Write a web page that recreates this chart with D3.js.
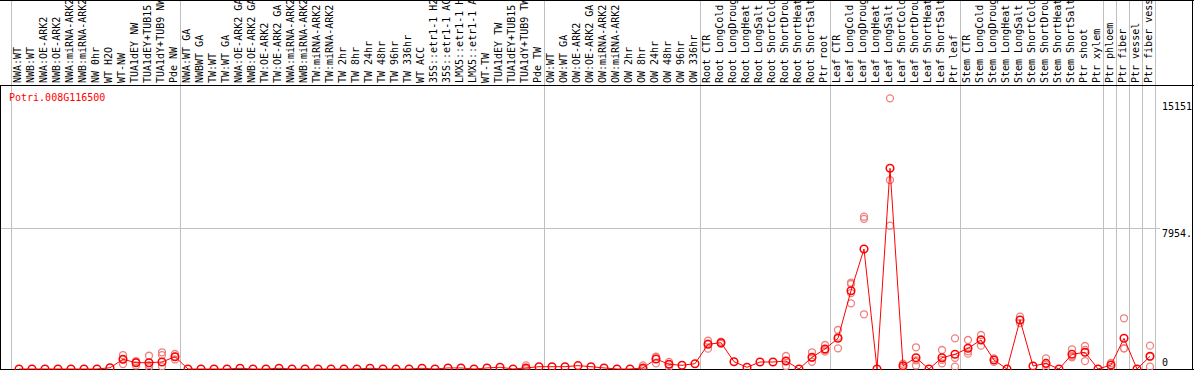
<!DOCTYPE html>
<html>
<head>
<meta charset="utf-8">
<script src="https://cdn.jsdelivr.net/npm/d3@7"></script>
<style>
  body { margin: 0; background: #fff; }
  text { font-family: "DejaVu Sans Mono", monospace; font-size: 10px; }
</style>
</head>
<body>
<div id="chart"></div>
<script>
"use strict";

var geneId = "Potri.008G116500";

var samples = [
  "NWA:WT", "NWB:WT", "NWA:OE-ARK2", "NWB:OE-ARK2", "NWA:miRNA-ARK2", "NWB:miRNA-ARK2",
  "NW 0hr", "WT H2O", "WT-NW", "TUA1dEY NW", "TUA1dEY+TUB15", "TUA1dY+TUB9 NW", "Pde NW",
  "NWA:WT GA", "NWBWT GA", "TW:WT", "TW:WT GA", "NWA:OE-ARK2 GA", "NWB:OE-ARK2 GA",
  "TW:OE-ARK2", "TW:OE-ARK2 GA", "NWA:miRNA-ARK2", "NWB:miRNA-ARK2", "TW:miRNA-ARK2",
  "TW:miRNA-ARK2", "TW 2hr", "TW 8hr", "TW 24hr", "TW 48hr", "TW 96hr", "TW 336hr",
  "WT ACC", "35S::etr1-1 H2O", "35S::etr1-1 ACC", "LMX5::etr1-1 H2O", "LMX5::etr1-1 ACC",
  "WT-TW", "TUA1dEY TW", "TUA1dEY+TUB15", "TUA1dY+TUB9 TW", "Pde TW",
  "OW:WT", "OW:WT GA", "OW:OE-ARK2", "OW:OE-ARK2 GA", "OW:miRNA-ARK2", "OW:miRNA-ARK2",
  "OW 2hr", "OW 8hr", "OW 24hr", "OW 48hr", "OW 96hr", "OW 336hr",
  "Root CTR", "Root LongCold", "Root LongDrought", "Root LongHeat", "Root LongSalt",
  "Root ShortCold", "Root ShortDrought", "Root ShortHeat", "Root ShortSalt", "Ptr root",
  "Leaf CTR", "Leaf LongCold", "Leaf LongDrought", "Leaf LongHeat", "Leaf LongSalt",
  "Leaf ShortCold", "Leaf ShortDrought", "Leaf ShortHeat", "Leaf ShortSalt", "Ptr leaf",
  "Stem CTR", "Stem LongCold", "Stem LongDrought", "Stem LongHeat", "Stem LongSalt",
  "Stem ShortCold", "Stem ShortDrought", "Stem ShortHeat", "Stem ShortSalt", "Ptr shoot",
  "Ptr xylem", "Ptr phloem", "Ptr fiber", "Ptr vessel", "Ptr fiber vessel"
];

// mean expression per sample
var means = [
  0, 0, 0, 0, 0, 0, 0, 70, 549, 357, 357, 396, 696,
  0, 0, 0, 0, 40, 0, 0, 40, 0, 0, 0, 0, 0, 0, 40, 0, 0, 0,
  40, 0, 60, 60, 0, 60, 100, 0, 60, 130,
  130, 130, 190, 130, 60, 0, 0, 60, 566, 266, 210, 300,
  1398, 1490, 413, 96, 396, 396, 453, 0, 662, 1132,
  1737, 4433, 6792, 0, 11360, 187, 640, 0, 640, 832,
  1171, 1641, 509, 0, 2773, 170, 320, 0, 832, 945,
  0, 226, 1737, 0, 719
];

// replicate values (only where they show apart from the mean)
var replicates = [
  [], [], [], [], [], [], [], [], [790, 280, 549], [420, 200, 450], [750, 100, 220], [945, 790, 150], [850, 700, 540],
  [], [], [], [], [], [], [], [], [], [], [], [], [], [], [], [], [], [],
  [], [], [], [], [], [], [], [], [200, 0], [],
  [], [], [], [], [], [], [], [200, 0], [700, 320, 680], [400, 266, 130], [], [],
  [1600, 1150, 1440], [1550, 1430], [], [], [], [], [736, 170, 453], [], [945, 410, 630], [1358, 980, 1060],
  [2207, 1170, 1830], [4885, 3718, 4811, 4300], [8620, 8500, 3096], [], [15322, 10697, 8111], [300, 100], [1228, 200, 490], [], [1075, 320, 520], [1737, 130, 630],
  [1641, 870, 1000], [1924, 1320, 1680], [600, 400], [], [2960, 2600], [], [605, 100, 250], [], [1115, 660, 720], [1302, 450, 1080],
  [], [340, 120], [2870, 1170, 1170], [], [1320, 130, 700]
];

// group separators: sample index that starts each block (88 = end)
var groupStarts = [0, 13, 41, 53, 63, 73, 84, 85, 86, 87, 88];

var yTicks = [15151, 7954, 0];
var yTickLabels = ["15151", "7954.", "0"];

var width = 1194, height = 370;
var headerH = 86, plotBottom = 369;

var svg = d3.select("#chart").append("svg")
  .attr("width", width)
  .attr("height", height);

var x = d3.scaleLinear()
  .domain([0, samples.length])
  .range([11, 11 + 13 * samples.length]);

var y = d3.scaleLinear()
  .domain([0, 16020])
  .range([plotBottom, headerH]);

function px(i) { return x(i) + 8; }

// vertical group lines through header and plot
svg.selectAll("line.group")
  .data(groupStarts)
  .enter().append("line")
    .attr("x1", function(d) { return x(d) + 0.5; })
    .attr("x2", function(d) { return x(d) + 0.5; })
    .attr("y1", 0)
    .attr("y2", plotBottom)
    .attr("stroke", "#c0c0c0");

// horizontal grid at middle tick
svg.append("line")
  .attr("x1", 0).attr("x2", 1160)
  .attr("y1", Math.round(y(7954)) + 0.5)
  .attr("y2", Math.round(y(7954)) + 0.5)
  .attr("stroke", "#c0c0c0");

// frame
svg.append("line").attr("x1", 0).attr("x2", width).attr("y1", 0.5).attr("y2", 0.5).attr("stroke", "#000");
svg.append("line").attr("x1", 0).attr("x2", width).attr("y1", headerH - 0.5).attr("y2", headerH - 0.5).attr("stroke", "#000");
svg.append("line").attr("x1", 0).attr("x2", width).attr("y1", plotBottom + 0.5).attr("y2", plotBottom + 0.5).attr("stroke", "#000");
svg.append("line").attr("x1", 0.5).attr("x2", 0.5).attr("y1", headerH).attr("y2", height).attr("stroke", "#000");
svg.append("line").attr("x1", width - 1.5).attr("x2", width - 1.5).attr("y1", 0).attr("y2", height).attr("stroke", "#000");

// sample labels (vertical)
svg.selectAll("text.sample")
  .data(samples)
  .enter().append("text")
    .attr("transform", function(d, i) { return "translate(" + (px(i) + 2) + "," + (headerH - 3) + ") rotate(-90)"; })
    .attr("fill", "#000")
    .text(function(d) { return d; });

// y tick labels
svg.selectAll("text.ytick")
  .data(yTicks)
  .enter().append("text")
    .attr("x", 1162)
    .attr("y", function(d) { return Math.min(y(d) + 9, plotBottom - 3); })
    .attr("fill", "#000")
    .text(function(d, i) { return yTickLabels[i]; });

// gene id
svg.append("text")
  .attr("x", 9)
  .attr("y", 101)
  .attr("fill", "#ff0000")
  .text(geneId);

var plot = svg.append("g");

// replicates
var repPts = [];
replicates.forEach(function(r, i) {
  r.forEach(function(v) { repPts.push({ i: i, v: v }); });
});
plot.selectAll("circle.rep")
  .data(repPts)
  .enter().append("circle")
    .attr("cx", function(d) { return px(d.i); })
    .attr("cy", function(d) { return y(d.v); })
    .attr("r", 3.5)
    .attr("fill", "none")
    .attr("stroke", "#f08080")
    .attr("stroke-width", 1.3);

// mean line
var line = d3.line()
  .x(function(d, i) { return px(i); })
  .y(function(d) { return y(d); });

plot.append("path")
  .datum(means)
  .attr("d", line)
  .attr("fill", "none")
  .attr("stroke", "#ff0000")
  .attr("stroke-width", 1);

plot.selectAll("circle.mean")
  .data(means)
  .enter().append("circle")
    .attr("cx", function(d, i) { return px(i); })
    .attr("cy", function(d) { return y(d); })
    .attr("r", 3.8)
    .attr("fill", "none")
    .attr("stroke", "#ff0000")
    .attr("stroke-width", 1.5);
</script>
</body>
</html>
